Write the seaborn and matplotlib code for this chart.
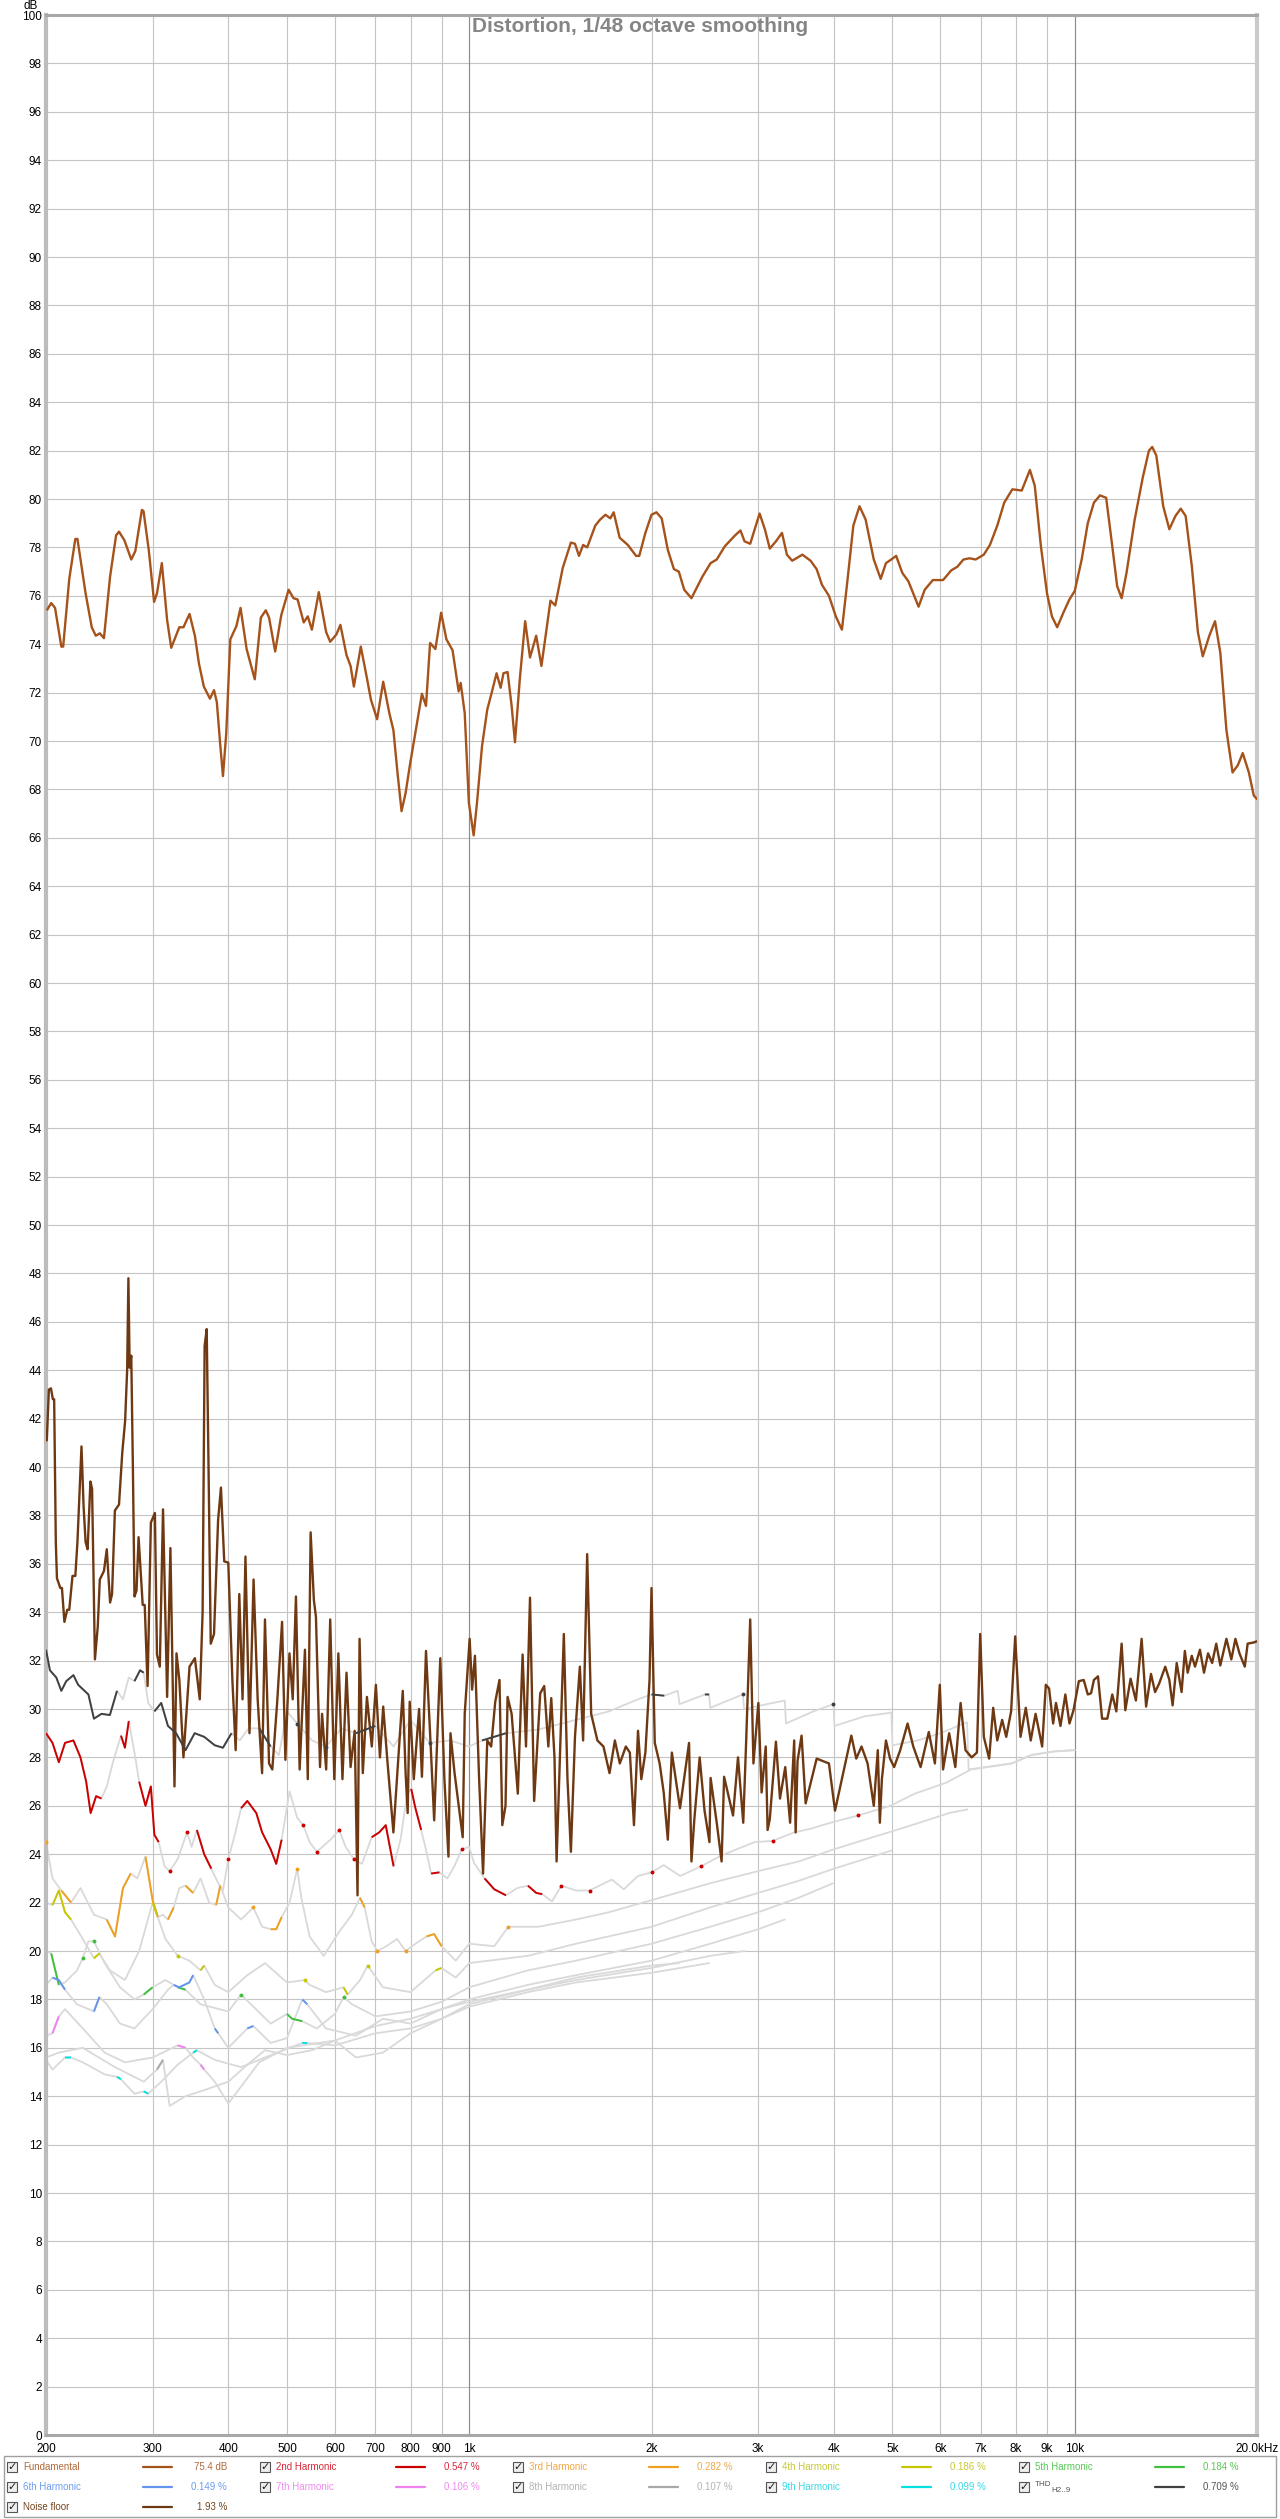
import numpy as np
import matplotlib
matplotlib.use("Agg")
import matplotlib.pyplot as plt
import seaborn as sns
from matplotlib.patches import Rectangle
from matplotlib.lines import Line2D

# ---- data (frequency in Hz, level in dB) ----
fund_freq = [201, 204, 207, 212, 213.5, 218.5, 223.6, 225.4, 232.5, 238, 241.7, 245.4, 249.3, 255.2, 261.1,
             264, 269.4, 276.6, 280.9, 288, 289.8, 295.6, 301.7, 305, 310.7, 317, 322, 332, 337.3, 345.2,
             352.3, 357.8, 364.5, 373.1, 378.9, 383, 387.8, 392, 396.9, 403.1, 412.6, 419.1, 428.9, 442.4,
             452.8, 461.3, 467.1, 478.1, 489.3, 503.2, 512.6, 520.6, 532.9, 541.2, 549.7, 564.4, 580.4,
             589.4, 603.3, 612.7, 627.1, 636.9, 644.9, 662.1, 677.7, 688.2, 704.5, 721, 738, 749.5, 761.2,
             773.1, 785.1, 797.4, 816.2, 835.4, 848.4, 861.7, 879.3, 898.6, 916.9, 938.6, 960.6, 968, 983,
             998.6, 1017, 1030, 1050, 1071, 1088, 1109.6, 1126.9, 1139, 1157, 1175, 1190, 1212, 1237, 1260,
             1290, 1316, 1362, 1387, 1427, 1472, 1495, 1518, 1542, 1566, 1615, 1645, 1679, 1710, 1732, 1772,
             1828, 1886, 1909, 1954, 2000, 2038, 2079, 2128, 2178, 2219, 2265, 2328, 2428, 2504, 2563, 2644,
             2749, 2805, 2849, 2911, 3017, 3078, 3136, 3210, 3285, 3347, 3415, 3550, 3662, 3748, 3825, 3927,
             4031, 4126, 4210, 4309, 4411, 4515, 4657, 4781, 4878, 4977, 5071, 5190, 5312, 5522, 5653, 5830,
             6061, 6252, 6399, 6550, 6704, 6861, 7077, 7243, 7449, 7648, 7888, 8175, 8433, 8590, 8793, 9000,
             9169, 9355, 9576, 9801, 10001, 10268, 10509, 10757, 11009, 11269, 11535, 11751, 11953, 12177,
             12561, 12956, 13261, 13427, 13636, 14002, 14330, 14668, 14966, 15247, 15606, 15973, 16273,
             16683, 17049, 17395, 17805, 18224, 18594, 18944, 19390, 19754, 20000]
fund_db = [75.43, 75.7, 75.5, 73.9, 73.9, 76.7, 78.35, 78.35, 76.1, 74.7, 74.35, 74.45, 74.25, 76.8, 78.5,
           78.65, 78.3, 77.5, 77.85, 79.55, 79.5, 77.9, 75.75, 76.1, 77.35, 75.0, 73.85, 74.7, 74.7, 75.25,
           74.35, 73.2, 72.25, 71.75, 72.1, 71.6, 69.9, 68.55, 70.3, 74.2, 74.75, 75.5, 73.8, 72.55,
           75.1, 75.4, 75.1, 73.7, 75.2, 76.25, 75.9, 75.85, 74.9, 75.15, 74.6, 76.15, 74.5,
           74.1, 74.4, 74.8, 73.55, 73.1, 72.25, 73.9, 72.6, 71.7, 70.9, 72.45, 71.15, 70.45, 68.7,
           67.1, 67.85, 68.95, 70.45, 71.95, 71.45, 74.05, 73.8, 75.3, 74.2, 73.75, 72.05, 72.4, 71.15,
           67.45, 66.1, 67.45, 69.8, 71.3, 71.95, 72.8, 72.2, 72.8, 72.85, 71.45, 69.95, 72.55, 74.95, 73.45,
           74.35, 73.1, 75.8, 75.6, 77.15, 78.2, 78.15, 77.65, 78.1, 78.0, 78.9, 79.15, 79.35, 79.2, 79.45, 78.4,
           78.1, 77.65, 77.65, 78.6, 79.35, 79.45, 79.2, 77.9, 77.1, 77.0, 76.25, 75.9, 76.8, 77.35, 77.5, 78.05,
           78.5, 78.7, 78.25, 78.15, 79.4, 78.75, 77.95, 78.25, 78.6, 77.7, 77.45, 77.7, 77.45, 77.1, 76.45, 76.0,
           75.15, 74.6, 76.55, 78.9, 79.7, 79.15, 77.5, 76.7, 77.35, 77.5, 77.65, 76.95, 76.6, 75.55, 76.25, 76.65,
           76.65, 77.05, 77.2, 77.5, 77.55, 77.5, 77.7, 78.1, 78.9, 79.85, 80.4, 80.35, 81.2, 80.55, 78.05, 76.1,
           75.15, 74.7, 75.3, 75.85, 76.2, 77.5, 79.0, 79.85, 80.15, 80.05, 78.05, 76.4, 75.9, 76.95,
           79.15, 80.9, 82.0, 82.15, 81.8, 79.7, 78.75, 79.3, 79.6, 79.3, 77.25, 74.5, 73.5,
           74.35, 74.95, 73.65, 70.45, 68.7, 69.0, 69.5, 68.7, 67.75, 67.6]

noise_freq = [200.6, 202.2, 203.8, 205.3, 206.3, 207.6, 208.5, 211.2, 212.5, 214.5, 216.8, 218.5, 221.2, 223.6,
              225.4, 228.9, 230.7, 232.5, 234.3, 236.8, 238.3, 240.9, 243.5, 245.4, 249.3, 252, 255.2, 257.1,
              259.9, 264, 267.3, 270.2, 272.3, 273.6, 274.9, 276.6, 278.3, 280, 282.2, 284.4, 288.9, 291.1,
              294.3, 298, 302.6, 305, 308.3, 312.1, 317, 321, 326, 328.5, 332.1, 337.3, 345.2, 352.3, 358.9,
              362.8, 365.6, 368.5, 371.3, 374.2, 378.9, 384.8, 389, 393.9, 400, 406.3, 411.4, 417.1, 422.3,
              427, 433.6, 440.4, 447.3, 454.9, 459.9, 467.1, 472.9, 481.8, 490.8, 497, 504.8, 511.1, 517.4,
              524.7, 535.4, 541.2, 547.1, 553.9, 558.3, 567, 571.4, 580.4, 589.4, 598.6, 608, 617.5, 627.1,
              636.9, 646.9, 653.9, 659, 667.2, 677.7, 690.4, 701.2, 712.1, 721, 732.3, 749.5, 776.7, 785.1,
              791.3, 797.4, 809.9, 826.4, 835.4, 848.4, 861.7, 875.2, 895.8, 909.9, 924, 931.2, 945.8, 975.5,
              983, 1001.6, 1011, 1022, 1038, 1054, 1071, 1087, 1104, 1122, 1134, 1148, 1157, 1175, 1203, 1225,
              1241, 1260, 1280, 1310, 1330, 1351, 1366, 1383, 1394, 1433, 1453, 1472, 1495, 1523, 1542, 1566,
              1590, 1628, 1666, 1705, 1740, 1773, 1814, 1842, 1871, 1900, 1924, 1954, 1985, 2000, 2025, 2063,
              2095, 2128, 2161, 2229, 2307, 2328, 2354, 2402, 2447, 2493, 2504, 2563, 2611, 2636, 2727, 2779,
              2835, 2866, 2911, 2947, 3003, 3040, 3088, 3110, 3136, 3210, 3260, 3326, 3388, 3441, 3460, 3485,
              3539, 3594, 3748, 3927, 4019, 4178, 4276, 4357, 4445, 4549, 4657, 4729, 4766, 4803, 4878, 4954,
              5032, 5150, 5296, 5412, 5565, 5741, 5876, 5986, 6061, 6203, 6350, 6479, 6601, 6756, 6894, 6980,
              7077, 7222, 7334, 7448, 7589, 7707, 7851, 7974, 8137, 8302, 8459, 8617, 8835, 8959, 9070, 9212,
              9312, 9473, 9650, 9802, 9954, 10158, 10348, 10509, 10640, 10757, 10925, 11096, 11319, 11535,
              11714, 11953, 12121, 12367, 12619, 12897, 13118, 13365, 13573, 13785, 14109, 14330, 14510, 14737,
              15013, 15201, 15366, 15606, 15801, 16098, 16349, 16605, 16864, 17128, 17395, 17805, 18140, 18424,
              18710, 19092, 19300, 19754, 20000]
noise_db = [41.1, 43.2, 43.25, 42.8, 42.8, 36.9, 35.4, 35.0, 35.0, 33.6, 34.1, 34.1, 35.5, 35.5,
            36.9, 40.85, 38.4, 36.9, 36.6, 39.4, 39.1, 32.05, 33.4, 35.35, 35.7, 36.6, 34.4, 34.75,
            38.2, 38.45, 40.6, 41.9, 44.0, 47.8, 44.1, 44.6, 40.0, 34.65, 34.9, 37.1, 34.3, 34.3,
            30.95, 37.7, 38.1, 32.25, 31.75, 38.25, 30.5, 36.65, 26.8, 32.3, 31.2, 28.0, 31.75, 32.1, 30.4,
            34.0, 45.0, 45.7, 39.5, 32.7, 33.1, 37.8, 39.15, 36.1, 36.05, 31.2, 28.3, 34.75, 30.4,
            36.3, 29.0, 35.35, 30.4, 27.35, 33.7, 27.75, 27.5, 30.3, 33.6, 27.9, 32.3, 30.4, 34.65,
            27.5, 32.45, 27.1, 37.3, 34.5, 33.8, 27.6, 29.8, 27.5, 33.7, 27.1, 32.3, 27.1, 31.5,
            27.6, 29.1, 22.3, 32.9, 27.35, 30.5, 28.45, 31.0, 28.0, 30.1, 27.9, 24.9, 30.75, 27.35,
            25.7, 30.3, 27.1, 30.0, 27.2, 32.4, 29.0, 25.4, 32.1, 27.1, 23.9, 29.0, 27.35, 24.7,
            29.8, 32.9, 30.8, 32.2, 27.2, 23.2, 28.7, 28.45, 30.3, 31.2, 25.2, 26.0, 30.5, 29.8, 26.5, 32.25,
            28.45, 34.6, 26.2, 30.65, 30.95, 28.45, 30.45, 28.0, 23.7, 33.1, 27.1, 24.1, 28.85, 31.75, 28.7, 36.4,
            29.8, 28.7, 28.45, 27.35, 28.7, 27.75, 28.45, 28.2, 25.2, 29.1, 27.1, 28.2, 31.2, 35.0, 28.6, 27.75,
            26.55, 24.6, 28.2, 25.9, 28.6, 23.7, 25.45, 28.0, 25.8, 24.5, 27.15, 25.3, 23.7, 27.2, 25.6, 28.0,
            25.3, 28.6, 33.7, 27.75, 30.25, 26.55, 28.45, 25.0, 25.45, 28.65, 26.3, 27.6, 25.3, 28.7, 24.9, 27.85,
            28.9, 26.1, 27.95, 27.75, 25.8, 27.75, 28.9, 27.95, 28.45, 27.75, 26.0, 28.3, 25.3, 27.1, 28.7, 27.95,
            27.6, 28.3, 29.4, 28.45, 27.6, 29.05, 27.75, 31.0, 27.5, 29.0, 27.6, 30.25, 28.3, 28.0, 28.2, 33.1,
            28.85, 27.95, 30.05, 28.7, 29.55, 28.85, 29.9, 33.0, 28.85, 30.05, 28.7, 29.8, 28.45, 31.0, 30.85, 29.4,
            30.25, 29.3, 30.6, 29.4, 29.95, 31.15, 31.2, 30.6, 30.65, 31.2, 31.35, 29.6, 29.6, 30.6,
            29.9, 32.7, 29.95, 31.25, 30.35, 32.9, 30.1, 31.45, 30.7, 31.05, 31.75, 31.2, 30.15, 31.9,
            30.7, 32.4, 31.5, 32.2, 31.75, 32.45, 31.5, 32.3, 31.9, 32.7, 31.8, 32.9, 32.05, 32.9,
            32.3, 31.75, 32.7, 32.75, 32.8]

# harmonics: *_on = 1 where REW draws the curve in its own colour (above the noise), else grey
h2_freq = [200, 205, 210, 215, 222, 228, 233, 237, 242, 247, 252, 258, 266, 270, 274, 280, 285, 292, 298, 302,
           307, 314, 320, 330, 342, 348, 355, 365, 375, 385, 392, 400, 410, 420, 430, 445, 455, 470, 480, 490,
           505, 520, 532, 545, 560, 590, 610, 625, 645, 665, 690, 710, 728, 750, 770, 790, 802, 815, 833, 850,
           865, 893, 920, 945, 972, 1000, 1018, 1060, 1100, 1150, 1200, 1250, 1290, 1320, 1370, 1420, 1500,
           1580, 1720, 1800, 1900, 2000, 2095, 2230, 2415, 2610, 2960, 3170, 3440, 3660, 3950, 4390, 4960,
           5440, 6130, 6740, 7870, 8480, 9280, 10000]
h2_db = [29.0, 28.6, 27.8, 28.6, 28.7, 28.0, 27.0, 25.7, 26.4, 26.3, 26.8, 27.8, 28.9, 28.4, 29.5, 28.2, 27.0,
         26.0, 26.8, 24.8, 24.5, 23.5, 23.3, 23.8, 24.9, 24.3, 25.0, 24.0, 23.4, 22.8, 22.5, 23.8, 24.8, 25.9,
         26.2, 25.7, 24.9, 24.2, 23.6, 24.6, 26.6, 25.5, 25.2, 24.5, 24.1, 24.6, 25.0, 24.3, 23.8, 23.6, 24.7,
         24.9, 25.2, 23.5, 24.6, 26.5, 26.7, 25.9, 25.0, 24.1, 23.2, 23.25, 23.0, 23.5, 24.2, 24.3, 23.65, 23.0,
         22.55, 22.3, 22.6, 22.7, 22.4, 22.35, 22.05, 22.7, 22.5, 22.5, 22.95, 22.55, 23.1, 23.25, 23.55, 23.1,
         23.5, 23.95, 24.5, 24.55, 24.9, 25.05, 25.3, 25.6, 26.0, 26.5, 26.95, 27.5, 27.75, 28.1, 28.25, 28.3]
h2_on = [1, 1, 1, 1, 1, 1, 1, 1, 1, 1, 0, 0, 1, 1, 1, 0, 1, 1, 1, 1,
         1, 0, 1, 0, 1, 0, 1, 1, 1, 0, 0, 1, 0, 1, 1, 1, 1, 1, 1, 1,
         0, 0, 1, 0, 1, 0, 1, 0, 1, 0, 1, 1, 1, 1, 0, 0, 1, 1, 1, 0,
         1, 1, 0, 0, 1, 0, 0, 1, 1, 1, 0, 1, 1, 1, 0, 1, 0, 1, 0, 0,
         0, 1, 0, 0, 1, 0, 0, 1, 0, 0, 0, 1, 0, 0, 0, 0, 0, 0, 0, 0]

h3_freq = [200, 205, 212, 220, 228, 240, 252, 260, 268, 276, 283, 292, 300, 306, 312, 318, 325, 332, 340, 350,
           360, 372, 382, 388, 400, 420, 440, 455, 470, 480, 490, 505, 520, 528, 545, 575, 610, 640, 660, 672,
           690, 705, 730, 760, 785, 815, 850, 875, 900, 950, 1000, 1100, 1160, 1300, 1500, 1700, 2000, 2500,
           3000, 3500, 4000, 4500, 5000, 5700, 6200, 6650]
h3_db = [24.5, 23.0, 22.5, 22.0, 22.6, 21.5, 21.3, 20.6, 22.6, 23.2, 23.0, 23.9, 22.1, 21.4, 21.5, 21.3, 21.8,
         22.6, 22.7, 22.4, 23.0, 22.0, 21.9, 22.7, 21.8, 21.3, 21.8, 21.0, 20.9, 20.9, 21.4, 22.0, 23.4, 22.2,
         20.6, 19.8, 20.8, 21.5, 22.2, 21.8, 20.4, 20.0, 20.2, 20.5, 20.0, 20.3, 20.6, 20.7, 20.2, 19.6, 20.3,
         20.2, 21.0, 21.0, 21.3, 21.6, 22.1, 22.8, 23.3, 23.7, 24.2, 24.6, 24.95, 25.4, 25.7, 25.85]
h3_on = [1, 0, 1, 1, 0, 0, 1, 1, 1, 1, 0, 1, 1, 1, 0, 1, 1, 0, 1, 1,
         0, 0, 1, 1, 0, 0, 1, 0, 1, 1, 1, 0, 1, 0, 0, 0, 0, 0, 1, 1,
         0, 1, 0, 0, 1, 0, 1, 1, 1, 0, 0, 0, 1, 0, 0, 0, 0, 0, 0, 0,
         0, 0, 0, 0, 0, 0]

h4_freq = [200, 205, 210, 215, 220, 230, 240, 245, 255, 270, 285, 300, 305, 315, 330, 345, 360, 365, 380, 400,
           430, 460, 500, 535, 545, 580, 620, 630, 660, 680, 720, 800, 880, 900, 950, 1000, 1250, 1500, 2000,
           2500, 3000, 3500, 4000, 4500, 4980]
h4_db = [22.0, 21.9, 22.5, 21.6, 21.3, 20.5, 19.7, 19.9, 19.2, 18.8, 20.0, 22.0, 21.5, 20.5, 19.8, 19.6, 19.2,
         19.4, 18.6, 18.3, 19.0, 19.5, 18.7, 18.8, 18.6, 18.3, 18.5, 18.2, 18.8, 19.4, 18.5, 18.3, 19.2, 19.3,
         18.9, 19.5, 19.8, 20.3, 21.0, 21.8, 22.4, 22.9, 23.4, 23.8, 24.15]
h4_on = [0, 1, 1, 1, 1, 0, 1, 1, 0, 0, 0, 1, 1, 0, 1, 0, 1, 1, 0, 0,
         0, 0, 0, 1, 0, 0, 1, 1, 0, 1, 0, 0, 1, 1, 0, 0, 0, 0, 0, 0,
         0, 0, 0, 0, 0]

h5_freq = [200, 204, 210, 215, 225, 230, 235, 240, 250, 265, 280, 290, 300, 315, 330, 340, 360, 400, 420, 440,
           470, 500, 510, 530, 560, 600, 620, 640, 700, 800, 900, 1000, 1250, 1500, 2000, 2500, 3000, 3500, 3990]
h5_db = [20.0, 19.9, 18.6, 18.7, 19.2, 19.7, 20.4, 20.4, 19.5, 18.5, 18.0, 18.2, 18.5, 18.8, 18.5, 18.4, 17.8,
         17.5, 18.2, 17.7, 17.0, 17.4, 17.2, 17.1, 16.8, 17.4, 18.1, 17.8, 17.3, 17.5, 17.9, 18.5, 19.2, 19.6,
         20.3, 21.0, 21.6, 22.2, 22.8]
h5_on = [0, 1, 1, 0, 0, 1, 0, 1, 0, 0, 0, 1, 1, 0, 1, 1, 0, 0, 1, 0,
         0, 1, 1, 1, 0, 0, 1, 0, 0, 0, 0, 0, 0, 0, 0, 0, 0, 0, 0]

h6_freq = [200, 205, 210, 215, 225, 235, 240, 245, 252, 265, 280, 300, 318, 325, 332, 345, 350, 365, 380, 385,
           400, 430, 440, 470, 500, 530, 540, 580, 650, 720, 800, 900, 1000, 1250, 1500, 2000, 2500, 3000, 3320]
h6_db = [18.6, 18.9, 18.8, 18.4, 17.8, 17.6, 17.5, 18.1, 17.8, 17.0, 16.8, 17.6, 18.4, 18.6, 18.5, 18.7, 19.0,
         18.0, 16.8, 16.6, 16.0, 16.8, 16.9, 16.2, 16.4, 18.0, 17.8, 16.8, 16.5, 17.2, 17.0, 17.6, 18.0, 18.6,
         19.0, 19.6, 20.3, 20.9, 21.3]
h6_on = [0, 1, 1, 1, 0, 0, 1, 1, 0, 0, 0, 0, 0, 1, 1, 1, 1, 0, 1, 1,
         0, 1, 1, 0, 0, 1, 1, 0, 0, 0, 0, 0, 0, 0, 0, 0, 0, 0, 0]

h7_freq = [200, 205, 210, 215, 230, 250, 270, 300, 330, 340, 350, 360, 365, 380, 400, 420, 450, 500, 600, 700,
           800, 900, 1000, 1250, 1500, 2000, 2500, 2850]
h7_db = [16.5, 16.6, 17.3, 17.6, 16.8, 15.8, 15.4, 15.6, 16.1, 16.0, 15.6, 15.3, 15.1, 14.6, 13.7, 14.4, 15.4,
         16.0, 16.3, 16.9, 17.2, 17.6, 17.9, 18.4, 18.8, 19.3, 19.8, 20.0]
h7_on = [0, 1, 1, 0, 0, 0, 0, 0, 1, 1, 0, 1, 1, 0, 0, 0, 0, 0, 0, 0,
         0, 0, 0, 0, 0, 0, 0, 0]

h8_freq = [200, 210, 230, 260, 290, 305, 312, 320, 340, 370, 400, 430, 460, 500, 550, 600, 650, 720, 800, 900,
           1000, 1250, 1500, 2000, 2490]
h8_db = [15.6, 15.8, 16.0, 15.2, 14.6, 15.1, 15.5, 13.6, 14.0, 14.3, 14.6, 15.3, 15.9, 15.7, 15.9, 16.3, 15.6,
         15.8, 16.6, 17.2, 17.7, 18.3, 18.7, 19.1, 19.5]
h8_on = [0, 0, 0, 0, 0, 1, 1, 0, 0, 0, 0, 0, 0, 0, 0, 0, 0, 0, 0, 0,
         0, 0, 0, 0, 0]

h9_freq = [200, 205, 215, 220, 230, 250, 262, 266, 280, 290, 295, 310, 330, 350, 355, 380, 420, 460, 530, 540,
           600, 700, 800, 900, 1000, 1250, 1500, 2000, 2220]
h9_db = [15.5, 15.1, 15.6, 15.6, 15.4, 14.9, 14.8, 14.7, 14.1, 14.2, 14.1, 14.6, 15.3, 15.8, 15.9, 15.5, 15.2,
         15.6, 16.2, 16.2, 16.1, 16.6, 16.8, 17.2, 17.8, 18.4, 18.9, 19.4, 19.5]
h9_on = [0, 0, 1, 1, 0, 0, 1, 1, 0, 1, 1, 0, 0, 1, 1, 0, 0, 0, 1, 1,
         0, 0, 0, 0, 0, 0, 0, 0, 0]

thd_freq = [200, 203, 208, 212, 216, 222, 226, 235, 240, 247, 255, 262, 268, 274, 280, 286, 290, 295, 302, 310,
            318, 328, 340, 352, 365, 380, 392, 405, 418, 432, 450, 470, 485, 500, 520, 550, 580, 615, 650, 700,
            750, 800, 860, 930, 1000, 1050, 1150, 1300, 1500, 1700, 1900, 2000, 2100, 2210, 2225, 2450, 2490,
            2500, 2830, 2845, 3100, 3320, 3335, 3700, 3995, 4010, 4500, 4980, 5000, 5500, 6000, 6640, 6680,
            7870, 8480, 9280, 10000]
thd_db = [32.45, 31.6, 31.3, 30.75, 31.15, 31.4, 31.0, 30.6, 29.6, 29.8, 29.75, 30.75, 30.4, 31.3, 31.15, 31.6,
          31.5, 30.25, 29.9, 30.25, 29.3, 29.0, 28.3, 29.0, 28.85, 28.5, 28.4, 29.0, 28.7, 29.2, 29.2, 28.45,
          28.1, 29.9, 29.4, 28.7, 28.45, 29.2, 29.0, 29.3, 28.45, 29.55, 28.6, 28.7, 28.45, 28.7, 29.0, 29.15,
          29.55, 29.9, 30.4, 30.6, 30.55, 30.75, 30.2, 30.6, 30.6, 30.05, 30.6, 30.0, 30.2, 30.35, 29.4, 29.9,
          30.2, 29.3, 29.7, 29.85, 28.5, 28.7, 29.0, 29.45, 27.5, 27.75, 28.1, 28.25, 28.3]
thd_on = [1, 1, 1, 1, 1, 1, 1, 1, 1, 1, 1, 1, 0, 0, 1, 1, 1, 0, 1, 1,
          1, 1, 1, 1, 1, 1, 1, 1, 0, 0, 1, 1, 0, 0, 1, 0, 1, 0, 1, 1,
          0, 0, 1, 0, 0, 1, 1, 0, 0, 0, 0, 1, 1, 0, 0, 1, 1, 0, 1, 0,
          0, 0, 0, 0, 1, 0, 0, 0, 0, 0, 0, 0, 0, 0, 0, 0, 0]

x_ticks = [200, 300, 400, 500, 600, 700, 800, 900, 1000, 2000, 3000, 4000, 5000, 6000, 7000, 8000, 9000,
           10000, 20000]
x_labels = ["200", "300", "400", "500", "600", "700", "800", "900", "1k", "2k", "3k", "4k", "5k", "6k", "7k",
            "8k", "9k", "10k", "20.0kHz"]

legend_labels = ["Fundamental", "2nd Harmonic", "3rd Harmonic", "4th Harmonic", "5th Harmonic",
                 "6th Harmonic", "7th Harmonic", "8th Harmonic", "9th Harmonic", "THD", "Noise floor"]
legend_values = ["75.4 dB", "0.547 %", "0.282 %", "0.186 %", "0.184 %", "0.149 %", "0.106 %", "0.107 %",
                 "0.099 %", "0.709 %", "1.93 %"]

# colours
FUND_C = "#a5521b"
NOISE_C = "#6e3912"
GREY_C = "#d9d9d9"
line_colors = [FUND_C, "#cc0000", "#f0a020", "#c8c800", "#40c040", "#6495ed", "#ee82ee", "#a8a8a8",
               "#00e0e0", "#404040", NOISE_C]
text_colors = ["#b06a3c", "#d8283a", "#f0a848", "#c8c838", "#58c858", "#6f9cf0", "#f08cf0", "#b4b4b4",
               "#3cd8e6", "#555555", "#74461f"]

W, H = 1280, 2519

sns.set_theme(style="white")
plt.rcParams["font.family"] = ["Liberation Sans", "DejaVu Sans"]


def fx(x):
    return x / W


def fy(y):
    return 1 - y / H


fig = plt.figure(figsize=(W / 100, H / 100), dpi=100)
fig.patch.set_facecolor("white")
ax = fig.add_axes([fx(46), fy(2435), (1257 - 46) / W, (2435 - 15) / H])
ax.set_facecolor("white")

harmonics = [
    (h2_freq, h2_db, h2_on, line_colors[1]),
    (h3_freq, h3_db, h3_on, line_colors[2]),
    (h4_freq, h4_db, h4_on, line_colors[3]),
    (h5_freq, h5_db, h5_on, line_colors[4]),
    (h6_freq, h6_db, h6_on, line_colors[5]),
    (h7_freq, h7_db, h7_on, line_colors[6]),
    (h8_freq, h8_db, h8_on, line_colors[7]),
    (h9_freq, h9_db, h9_on, line_colors[8]),
    (thd_freq, thd_db, thd_on, line_colors[9]),
]

# grey (below noise) versions first
for f, d, on, c in harmonics:
    sns.lineplot(x=f, y=d, ax=ax, color=GREY_C, linewidth=1.3, sort=False, estimator=None, zorder=2)

sns.lineplot(x=noise_freq, y=noise_db, ax=ax, color=NOISE_C, linewidth=1.7, sort=False,
             estimator=None, zorder=3)

# coloured fragments where the harmonic rises above the noise
for f, d, on, c in harmonics:
    f = np.array(f, dtype=float)
    d = np.array(d, dtype=float)
    on = np.array(on, dtype=bool)
    ax.plot(f, np.where(on, d, np.nan), color=c, linewidth=1.4, zorder=4, solid_capstyle="butt")
    prev = np.r_[False, on[:-1]]
    nxt = np.r_[on[1:], False]
    iso = on & ~prev & ~nxt
    ax.plot(f[iso], d[iso], "o", color=c, markersize=1.8, zorder=4)

sns.lineplot(x=fund_freq, y=fund_db, ax=ax, color=FUND_C, linewidth=1.7, sort=False,
             estimator=None, zorder=5)

ax.set_xscale("log")
ax.set_xlim(200, 20000)
ax.set_ylim(0, 100)
ax.set_xticks(x_ticks)
ax.set_xticklabels(x_labels)
ax.xaxis.set_minor_locator(matplotlib.ticker.NullLocator())
ax.set_yticks(range(0, 101, 2))
ax.set_yticklabels([str(v) for v in range(0, 101, 2)])
ax.tick_params(axis="both", length=0, labelsize=8.5, labelcolor="black")
ax.tick_params(axis="y", pad=3)
ax.tick_params(axis="x", pad=6)
ax.set_xlabel("")
ax.set_ylabel("")
ax.grid(True, which="major", color="#c4c4c4", linewidth=0.8, zorder=0)
ax.set_axisbelow(True)
for v in (1000, 10000):
    ax.axvline(v, color="#8c8c8c", linewidth=0.8, zorder=1)

for side, lw, col in (("left", 3.0, "#bcbcbc"), ("top", 2.2, "#a8a8a8"),
                      ("right", 3.0, "#cacaca"), ("bottom", 2.2, "#a8a8a8")):
    ax.spines[side].set_visible(True)
    ax.spines[side].set_linewidth(lw)
    ax.spines[side].set_color(col)

fig.text(0.5, fy(27), "Distortion, 1/48 octave smoothing", ha="center", va="center",
         fontsize=15, fontweight="bold", color="#858585", zorder=10)
fig.text(fx(31), fy(6), "dB", ha="center", va="center", fontsize=8.5, color="black")

# ---- legend panel ----
fig.add_artist(Rectangle((fx(4), fy(2517)), (1276 - 4) / W, (2517 - 2456) / H,
                         transform=fig.transFigure, fill=False, edgecolor="#a0a0a0", linewidth=1.0))

for i, (lab, val) in enumerate(zip(legend_labels, legend_values)):
    r, c = divmod(i, 5)
    x0 = 12 + 253 * c
    y0 = 2467 + 20 * r
    fig.add_artist(Rectangle((fx(x0 - 5), fy(y0 + 5)), 10 / W, 10 / H, transform=fig.transFigure,
                             facecolor="#eeeeee", edgecolor="#555555", linewidth=0.8))
    fig.text(fx(x0 + 0.5), fy(y0), "\u2713", ha="center", va="center", fontsize=8,
             fontweight="bold", color="#202020", family=["DejaVu Sans"])
    if lab == "THD":
        fig.text(fx(x0 + 11), fy(y0 - 3), "THD", ha="left", va="center", fontsize=5.8,
                 color=text_colors[i])
        fig.text(fx(x0 + 27), fy(y0 + 4), "H2..9", ha="left", va="center", fontsize=5.8,
                 color=text_colors[i])
    else:
        fig.text(fx(x0 + 11), fy(y0), lab, ha="left", va="center", fontsize=7, color=text_colors[i])
    fig.add_artist(Line2D([fx(x0 + 131), fx(x0 + 160)], [fy(y0), fy(y0)], transform=fig.transFigure,
                          color=line_colors[i], linewidth=1.6))
    fig.text(fx(x0 + 215), fy(y0), val, ha="right", va="center", fontsize=7, color=text_colors[i])

fig.savefig("out.png", dpi=100)
